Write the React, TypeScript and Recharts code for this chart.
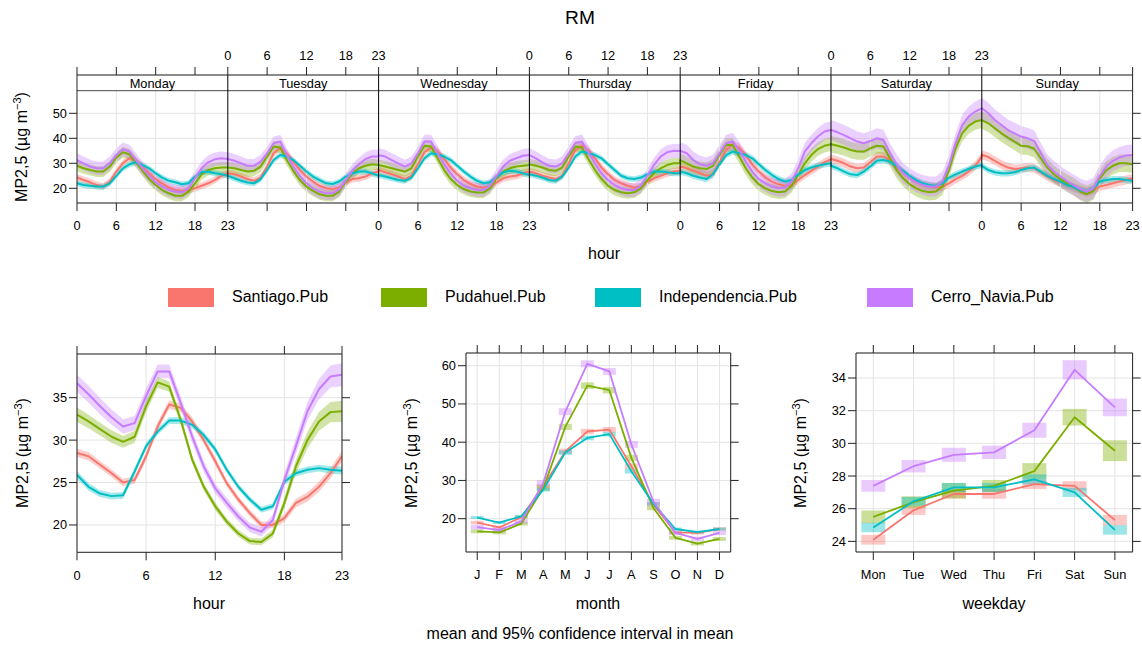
import React from 'react';
import {
  ComposedChart,
  Line,
  Area,
  XAxis,
  YAxis,
  CartesianGrid,
  ReferenceLine,
  ReferenceArea,
  ErrorBar,
} from 'recharts';

// ---------------- data ----------------
const SITES = ['Santiago.Pub', 'Pudahuel.Pub', 'Independencia.Pub', 'Cerro_Navia.Pub'];
const COLORS = ['#F8766D', '#7CAE00', '#00BFC4', '#C77CFF'];
const RGB = ['248,118,109', '124,174,0', '0,191,196', '199,124,255'];
const DAY_NAMES = ['Monday', 'Tuesday', 'Wednesday', 'Thursday', 'Friday', 'Saturday', 'Sunday'];
const HOUR_TICKS = [0, 6, 12, 18, 23];
const MONTH_LABELS = ['J', 'F', 'M', 'A', 'M', 'J', 'J', 'A', 'S', 'O', 'N', 'D'];
const WEEKDAY_LABELS = ['Mon', 'Tue', 'Wed', 'Thu', 'Fri', 'Sat', 'Sun'];

// hour x weekday means (top panel)
const santiagoByDay = [
  [24.3, 23.3, 22.4, 21.3, 20.7, 22.7, 26.7, 30, 32, 31, 28.7, 26, 23.7, 22, 20.3, 19.3, 19, 19.3, 20, 21, 22, 23.3, 25, 26],
  [26, 25.6, 24.7, 23.7, 23, 24.3, 28.7, 34, 36, 34, 30.7, 27.3, 24.7, 22.7, 21, 20, 19.7, 20.3, 22.4, 23.7, 24, 24.7, 26, 26.7],
  [27.3, 26.4, 25.6, 24.7, 23.7, 25, 29.6, 34.4, 36.3, 35, 31.7, 28.3, 25.6, 23.3, 21.7, 20.7, 20.3, 20.7, 22.4, 24, 24.7, 25, 26, 26.7],
  [26.7, 26, 25, 24.3, 23.7, 25, 30, 35.3, 37, 35.3, 32, 28.3, 25.6, 23.3, 22, 21, 20.3, 20.7, 22.7, 24, 25, 26, 26.7, 27],
  [28.7, 28, 27, 26, 25, 25.6, 30.4, 35.3, 37.6, 36.3, 33.3, 29.6, 26.7, 24.3, 22.7, 21.6, 21, 21.3, 23.3, 25.3, 27, 28.7, 30.4, 31.7],
  [31.7, 31, 30, 28.7, 28, 28.3, 30.4, 32.7, 32.7, 31.3, 28.7, 26, 24, 22.4, 21.3, 20.7, 20.3, 20.7, 22, 23.7, 25, 26.7, 29, 32.7],
  [33.4, 32.5, 31, 29.5, 28.3, 27.7, 28, 28.3, 28, 26.4, 24.7, 23.3, 22.4, 21.3, 20.3, 19.3, 18.4, 19.3, 20.7, 21.3, 22, 22.7, 23.3, 24],
];
const pudahuelByDay = [
  [29, 28, 27.3, 26.7, 26.7, 28.7, 32.3, 34.4, 33.6, 30.4, 27, 23.7, 21.3, 19.3, 18, 17, 17, 18.7, 22, 25.6, 27.3, 28, 28.3, 28.3],
  [28.3, 28, 27.3, 26.7, 27, 28.7, 32.7, 36.7, 36.3, 31.3, 27, 23.3, 20.7, 19, 17.6, 17, 17, 18.7, 22.7, 26, 28, 29, 29.6, 29.3],
  [29.3, 28.7, 28, 27.3, 26.7, 28, 32.7, 37, 36.7, 32, 27.3, 23.7, 21.3, 19.7, 18.7, 18.3, 18.3, 20, 24, 26.7, 28, 28.7, 29, 29.3],
  [29.6, 29, 28.3, 27.3, 27, 28.3, 32.7, 36.7, 36.3, 31.7, 27.3, 23.7, 21, 19.3, 18.4, 18, 18.4, 20, 23.3, 26, 28, 29.3, 30, 30],
  [31.3, 30, 28.7, 28, 27.7, 29, 33.3, 37.3, 37.3, 32.7, 28, 24.3, 21.6, 20, 18.9, 18.4, 18.7, 21, 25.3, 30, 33.3, 35.7, 37, 37.6],
  [37.6, 37, 36.3, 35.3, 34.7, 34.7, 36, 37, 36.7, 32, 27.3, 24, 21.6, 20, 18.9, 18.4, 18.7, 20.7, 27.3, 36, 42, 45, 46.7, 47.3],
  [47.3, 46, 44, 42, 40.3, 38.7, 37, 36.8, 35.8, 32, 28.3, 25.6, 23.7, 22, 20.7, 18.7, 17.6, 18.9, 24, 27.3, 29, 30, 30, 29.6],
];
const independenciaByDay = [
  [22, 21.3, 21, 20.7, 20.7, 22, 25, 28, 29.6, 30.4, 29.3, 28, 26, 24.3, 23, 22.4, 21.6, 22, 24.7, 26.4, 26.7, 26, 25.6, 25],
  [25, 24, 23, 22.3, 22, 23.7, 27.3, 31.3, 33.3, 32.7, 31.3, 29, 26.7, 24.7, 23.3, 22, 21.7, 22.7, 24.7, 26, 26.7, 26.7, 26, 25],
  [25.3, 24.7, 24, 23.3, 23, 24.3, 28, 32, 34, 33.6, 32.7, 31.3, 29, 26.7, 24.7, 23, 22, 22.4, 24.7, 26.4, 27, 26.7, 26, 25.3],
  [25.6, 25, 24.3, 23.3, 23, 24.7, 28.3, 32.7, 34.7, 34, 33.3, 32, 29.6, 27.3, 25, 24, 23.7, 24.3, 25.6, 26.7, 26.7, 26.4, 26, 26],
  [26.7, 26, 25, 24.3, 23.7, 25.6, 29.6, 33.3, 34.7, 34, 33.3, 32, 29.6, 27.3, 25.3, 23.7, 22.7, 23.3, 25.6, 27.3, 28.3, 29, 29.6, 30],
  [29, 28, 26.7, 25.6, 25.3, 26.7, 28.7, 31, 31.3, 30.7, 29, 27, 25, 23.3, 22, 21.3, 21, 22, 24.3, 25.6, 26.7, 27.7, 28.7, 29.3],
  [29, 27.3, 26.4, 26, 26, 26.4, 27.3, 28, 28.3, 26.7, 25, 23.7, 22.7, 21.3, 20.5, 19.3, 18.7, 20, 22.7, 23.3, 23.7, 23.7, 23.3, 23],
];
const cerroNaviaByDay = [
  [31.3, 30, 28.7, 28, 28, 30, 33.3, 35.6, 34.7, 31.3, 28, 25, 22.4, 20.7, 19.3, 18.7, 18.4, 20, 24, 28, 30.4, 31.6, 32, 31.7],
  [31.7, 31, 30, 29, 29, 30.7, 34, 38, 38.7, 33.3, 28.7, 25, 22, 20, 18.7, 18, 18, 19.6, 23.3, 27, 29.6, 31.7, 32.7, 32.7],
  [33.3, 32.7, 31.3, 30, 28.7, 30, 34, 38.7, 38.7, 34, 29.6, 26, 23, 21, 20, 19.3, 19.3, 21, 25, 28.7, 31, 32, 33, 33.3],
  [33.3, 32, 30.4, 29, 28.7, 30, 34, 38, 38.7, 34.4, 30, 26, 23.3, 21.3, 20, 19.3, 19.3, 21, 25, 29.3, 32.7, 34.4, 35, 34.9],
  [35, 34, 31.3, 29.6, 29, 30, 34, 38, 38.7, 35.3, 30.7, 26.7, 23.7, 22, 20.7, 20, 20.3, 22.7, 28, 34.7, 38, 40.7, 42.7, 43.3],
  [43.3, 42.4, 41.3, 40, 38.7, 38, 38.9, 40, 39.3, 34, 29.6, 26, 24, 22.4, 21.3, 20.7, 20.7, 22.7, 29.3, 38, 45.3, 48.7, 50.7, 52],
  [52, 50, 47.3, 45.3, 43.3, 42, 40.7, 40, 38.9, 34, 29.3, 26.7, 24.7, 22.9, 21.3, 19.7, 18.7, 20, 25, 28.7, 31, 32.3, 33.1, 33.3],
];
// half-width of 95% CI per site per day (top panel)
const santiagoDayCI = [1.4, 1.4, 1.5, 1.5, 1.6, 1.8, 1.8];
const pudahuelDayCI = [2.2, 2.2, 2.2, 2.2, 2.7, 3.3, 3.5];
const independenciaDayCI = [1.15, 1.15, 1.15, 1.15, 1.25, 1.25, 1.25];
const cerroNaviaDayCI = [2.7, 2.7, 2.7, 2.8, 3.4, 4.0, 4.2];

// hour of day means (bottom-left)
const santiagoHour = [28.5, 28.1, 27.1, 26.1, 25, 25.3, 28.1, 31.6, 34.2, 33.8, 32.2, 30, 27.5, 24.9, 23, 21.4, 20, 20, 20.8, 22.6, 23.3, 24.5, 26.1, 28.1];
const pudahuelHour = [33, 32.2, 31.3, 30.4, 29.8, 30.4, 34, 36.8, 36.3, 32.4, 27.7, 24.5, 22.2, 20.4, 19, 18.1, 18, 19, 22.6, 26.9, 30, 32.2, 33.3, 33.4];
const independenciaHour = [25.9, 24.5, 23.7, 23.4, 23.5, 26.3, 29.3, 31, 32.3, 32.3, 31.8, 30.6, 28.9, 26.5, 24.5, 23, 21.8, 22.2, 25.1, 26.1, 26.5, 26.7, 26.5, 26.4];
const cerroNaviaHour = [36.7, 35.4, 34, 32.7, 31.6, 32, 35.2, 38.1, 38.1, 34.4, 30.4, 26.9, 24.3, 22.6, 21, 19.7, 19.2, 20.6, 25.3, 29.3, 33.4, 36, 37.5, 37.7];
const santiagoHourCI = [0.5, 0.5, 0.45, 0.45, 0.45, 0.45, 0.5, 0.5, 0.5, 0.5, 0.5, 0.45, 0.45, 0.4, 0.4, 0.4, 0.4, 0.4, 0.45, 0.5, 0.55, 0.6, 0.6, 0.65];
const pudahuelHourCI = [0.85, 0.8, 0.75, 0.75, 0.7, 0.7, 0.7, 0.65, 0.6, 0.55, 0.5, 0.45, 0.45, 0.4, 0.4, 0.4, 0.4, 0.45, 0.6, 0.8, 1.0, 1.1, 1.2, 1.25];
const independenciaHourCI = [0.45, 0.45, 0.4, 0.4, 0.4, 0.4, 0.4, 0.4, 0.4, 0.4, 0.4, 0.4, 0.4, 0.35, 0.35, 0.35, 0.35, 0.35, 0.4, 0.4, 0.4, 0.4, 0.45, 0.45];
const cerroNaviaHourCI = [1.0, 1.0, 0.95, 0.9, 0.85, 0.85, 0.85, 0.8, 0.8, 0.75, 0.7, 0.65, 0.6, 0.6, 0.55, 0.55, 0.55, 0.6, 0.8, 0.95, 1.1, 1.2, 1.3, 1.35];

// monthly means (bottom-middle)
const santiagoMonth = [19, 17.7, 20.4, 28.5, 37.6, 42.8, 43.3, 33.7, 23.7, 16.4, 16.3, 17.3];
const pudahuelMonth = [16.7, 16.4, 18.7, 28, 44, 54.8, 53.6, 35.9, 22.8, 15, 13.5, 14.7];
const independenciaMonth = [20.3, 19, 20.6, 27.6, 37.3, 41.1, 42.1, 32.4, 23.9, 17.3, 16.5, 17.3];
const cerroNaviaMonth = [17.8, 17, 19.3, 29.3, 48, 60.5, 58.5, 39.4, 24.5, 16.3, 14.7, 16.3];
const santiagoMonthCI = [0.45, 0.45, 0.45, 0.6, 0.7, 0.7, 0.7, 0.7, 0.5, 0.45, 0.45, 0.45];
const pudahuelMonthCI = [0.5, 0.5, 0.5, 0.7, 0.8, 0.85, 0.85, 0.8, 0.6, 0.5, 0.5, 0.5];
const independenciaMonthCI = [0.4, 0.4, 0.4, 0.5, 0.6, 0.6, 0.6, 0.6, 0.45, 0.4, 0.4, 0.4];
const cerroNaviaMonthCI = [0.6, 0.6, 0.6, 0.8, 0.9, 0.9, 0.9, 0.9, 0.7, 0.6, 0.6, 0.6];

// weekday means (bottom-right)
const santiagoWeekday = [24.1, 25.9, 26.9, 26.9, 27.5, 27.4, 25.3];
const pudahuelWeekday = [25.5, 26.4, 27.1, 27.4, 28.3, 31.6, 29.55];
const independenciaWeekday = [24.85, 26.45, 27.3, 27.3, 27.8, 27.0, 24.7];
const cerroNaviaWeekday = [27.4, 28.6, 29.3, 29.45, 30.8, 34.5, 32.2];
const santiagoWeekdayCI = [0.3, 0.28, 0.28, 0.29, 0.3, 0.28, 0.32];
const pudahuelWeekdayCI = [0.39, 0.36, 0.47, 0.36, 0.49, 0.51, 0.64];
const independenciaWeekdayCI = [0.29, 0.27, 0.28, 0.27, 0.31, 0.28, 0.29];
const cerroNaviaWeekdayCI = [0.36, 0.38, 0.43, 0.41, 0.46, 0.59, 0.54];

// ---------------- derived tables ----------------
const BY_DAY = [santiagoByDay, pudahuelByDay, independenciaByDay, cerroNaviaByDay];
const DAY_CI = [santiagoDayCI, pudahuelDayCI, independenciaDayCI, cerroNaviaDayCI];
const HOUR = [santiagoHour, pudahuelHour, independenciaHour, cerroNaviaHour];
const HOUR_CI = [santiagoHourCI, pudahuelHourCI, independenciaHourCI, cerroNaviaHourCI];
const MONTH = [santiagoMonth, pudahuelMonth, independenciaMonth, cerroNaviaMonth];
const MONTH_CI = [santiagoMonthCI, pudahuelMonthCI, independenciaMonthCI, cerroNaviaMonthCI];
const WEEKDAY = [santiagoWeekday, pudahuelWeekday, independenciaWeekday, cerroNaviaWeekday];
const WEEKDAY_CI = [santiagoWeekdayCI, pudahuelWeekdayCI, independenciaWeekdayCI, cerroNaviaWeekdayCI];

const HPD = 23; // x-units per day panel (hours 0..23)
const weekRows: any[] = [];
DAY_NAMES.forEach((_, d) => {
  for (let h = 0; h < 24; h++) {
    const row: any = { x: d * HPD + h };
    BY_DAY.forEach((s, i) => {
      const m = s[d][h];
      const e = DAY_CI[i][d];
      row['m' + i] = m;
      row['r' + i] = [m - e, m + e];
    });
    weekRows.push(row);
  }
});
const weekTicks: number[] = [];
DAY_NAMES.forEach((_, d) => {
  HOUR_TICKS.forEach((h) => {
    const v = d * HPD + h;
    if (!weekTicks.includes(v)) weekTicks.push(v);
  });
});
const weekGridX: number[] = [];
DAY_NAMES.forEach((_, d) => [6, 12, 18].forEach((h) => weekGridX.push(d * HPD + h)));

const hourRows = santiagoHour.map((_, h) => {
  const row: any = { x: h };
  HOUR.forEach((s, i) => {
    row['m' + i] = s[h];
    row['r' + i] = [s[h] - HOUR_CI[i][h], s[h] + HOUR_CI[i][h]];
  });
  return row;
});
const monthRows = MONTH_LABELS.map((_, k) => {
  const row: any = { x: k + 1 };
  MONTH.forEach((s, i) => {
    row['m' + i] = s[k];
    row['e' + i] = MONTH_CI[i][k];
  });
  return row;
});
const weekdayRows = WEEKDAY_LABELS.map((_, k) => {
  const row: any = { x: k + 1 };
  WEEKDAY.forEach((s, i) => {
    row['m' + i] = s[k];
    row['e' + i] = WEEKDAY_CI[i][k];
  });
  return row;
});

// ---------------- layout ----------------
const FONT = '"Liberation Sans", Arial, Helvetica, sans-serif';
const FRAME = '#222';
const GRID = '#e4e4e4';
const PAD = { l: 70, r: 20, t: 30, b: 40 };
const TOP_PLOT = { l: 76.7, r: 1132.3, t: 75, b: 203 };
const HOUR_PLOT = { l: 76.7, r: 341.7, t: 354, b: 552.3 };
const MONTH_PLOT = { l: 466, r: 730.7, t: 353.3, b: 552.3 };
const WEEK_PLOT = { l: 855.7, r: 1132.3, t: 353.3, b: 552.3 };
const TOP_Y = [14.12, 65.32];
const STRIP_Y = 59.04;

function makeTick(fmt: (v: number) => string, side: string) {
  return (props: any) => {
    const { x, y, payload } = props;
    const s = fmt(payload.value);
    if (!s) return <g />;
    let ty = y;
    let anchor = 'middle';
    if (side === 'bottom') ty = y + 13;
    if (side === 'top') ty = y - 9;
    if (side === 'left') anchor = 'end';
    return (
      <text x={x} y={ty} textAnchor={anchor} dominantBaseline="central" fontSize={12.8} fontFamily={FONT} fill="#000">
        {s}
      </text>
    );
  };
}
const noLabel = () => '';

function frameAxes(o: any) {
  return [
    <XAxis key="xb" xAxisId="b" dataKey="x" type="number" domain={o.xDomain} ticks={o.xTicks} interval={0}
      allowDataOverflow tickSize={8} tickMargin={2} height={PAD.b} stroke={FRAME} tick={makeTick(o.bottomFmt, 'bottom')} />,
    <XAxis key="xt" xAxisId="t" dataKey="x" orientation="top" type="number" domain={o.xDomain} ticks={o.xTicks} interval={0}
      allowDataOverflow tickSize={8} tickMargin={2} height={PAD.t} stroke={FRAME} tick={makeTick(o.topFmt, 'top')} />,
    <YAxis key="yl" yAxisId="l" type="number" domain={o.yDomain} ticks={o.yTicks} interval={0}
      allowDataOverflow tickSize={8} tickMargin={2} width={PAD.l} stroke={FRAME} tick={makeTick(o.leftFmt, 'left')} />,
    <YAxis key="yr" yAxisId="r" orientation="right" type="number" domain={o.yDomain} ticks={o.yTicks} interval={0}
      allowDataOverflow tickSize={8} tickMargin={2} width={PAD.r} stroke={FRAME} tick={makeTick(noLabel, 'right')} />,
  ];
}

function chartBox(p: any) {
  return {
    style: { position: 'absolute' as const, left: p.l - PAD.l, top: p.t - PAD.t },
    width: p.r - p.l + PAD.l + PAD.r,
    height: p.b - p.t + PAD.t + PAD.b,
  };
}

const weekBottomFmt = (v: number) => {
  if (v === 0) return '0';
  if (v === 7 * HPD) return '23';
  if (v % HPD === 0) return (v / HPD) % 2 === 0 ? '0' : '23';
  const d = Math.floor(v / HPD);
  return d % 2 === 0 ? String(v - d * HPD) : '';
};
const weekTopFmt = (v: number) => {
  if (v === 0 || v === 7 * HPD) return '';
  if (v % HPD === 0) return (v / HPD) % 2 === 1 ? '0' : '23';
  const d = Math.floor(v / HPD);
  return d % 2 === 1 ? String(v - d * HPD) : '';
};
const numFmt = (v: number) => String(v);

function YTitle({ x, y }: { x: number; y: number }) {
  return (
    <div
      style={{
        position: 'absolute',
        left: x,
        top: y,
        transform: 'translate(-50%, -50%) rotate(-90deg)',
        whiteSpace: 'nowrap',
        fontSize: 16,
        lineHeight: '18px',
      }}
    >
      MP2,5 (µg m<sup style={{ fontSize: 11, lineHeight: 0 }}>−3</sup>)
    </div>
  );
}
function Text({ x, y, size = 16, children }: any) {
  return (
    <div style={{ position: 'absolute', left: x, top: y, transform: 'translate(-50%, -50%)', whiteSpace: 'nowrap', fontSize: size }}>
      {children}
    </div>
  );
}

const LEGEND_X = [168, 381, 595, 867];

function TopChart() {
  const b = chartBox(TOP_PLOT);
  return (
    <div style={b.style}>
      <ComposedChart width={b.width} height={b.height} data={weekRows} margin={{ top: 0, right: 0, bottom: 0, left: 0 }}>
        {frameAxes({
          xDomain: [0, 7 * HPD],
          xTicks: weekTicks,
          yDomain: TOP_Y,
          yTicks: [20, 30, 40, 50],
          bottomFmt: weekBottomFmt,
          topFmt: weekTopFmt,
          leftFmt: numFmt,
        })}
        <CartesianGrid xAxisId="b" yAxisId="l" stroke={GRID} vertical={false} />
        {weekGridX.map((v) => (
          <ReferenceLine key={'g' + v} xAxisId="b" yAxisId="l" stroke={GRID} strokeWidth={1}
            segment={[{ x: v, y: TOP_Y[0] }, { x: v, y: STRIP_Y }]} />
        ))}
        {SITES.map((_, i) => (
          <Area key={'a' + i} xAxisId="b" yAxisId="l" type="linear" dataKey={'r' + i} stroke="none"
            fill={COLORS[i]} fillOpacity={0.35} isAnimationActive={false} activeDot={false} />
        ))}
        {SITES.map((_, i) => (
          <Line key={'l' + i} xAxisId="b" yAxisId="l" type="linear" dataKey={'m' + i} stroke={COLORS[i]}
            strokeWidth={2} dot={false} activeDot={false} strokeLinejoin="round" isAnimationActive={false} />
        ))}
        <ReferenceLine xAxisId="b" yAxisId="l" y={STRIP_Y} stroke="#444" strokeWidth={1} />
        {DAY_NAMES.map((name, d) => (
          <ReferenceArea key={'s' + d} xAxisId="b" yAxisId="l" x1={d * HPD} x2={(d + 1) * HPD} y1={STRIP_Y} y2={TOP_Y[1]}
            fill="none" fillOpacity={0} stroke="none"
            label={{ value: name, position: 'center', fontSize: 12.8, fill: '#000', fontFamily: FONT, dy: 1 }} />
        ))}
        {DAY_NAMES.slice(1).map((_, k) => (
          <ReferenceLine key={'d' + k} xAxisId="b" yAxisId="l" x={(k + 1) * HPD} stroke="#000" strokeWidth={1} />
        ))}
      </ComposedChart>
    </div>
  );
}

function HourChart() {
  const b = chartBox(HOUR_PLOT);
  return (
    <div style={b.style}>
      <ComposedChart width={b.width} height={b.height} data={hourRows} margin={{ top: 0, right: 0, bottom: 0, left: 0 }}>
        {frameAxes({
          xDomain: [0, 23],
          xTicks: HOUR_TICKS,
          yDomain: [16.78, 40.15],
          yTicks: [20, 25, 30, 35],
          bottomFmt: numFmt,
          topFmt: noLabel,
          leftFmt: numFmt,
        })}
        <CartesianGrid xAxisId="b" yAxisId="l" stroke={GRID} />
        {SITES.map((_, i) => (
          <Area key={'a' + i} xAxisId="b" yAxisId="l" type="linear" dataKey={'r' + i} stroke="none"
            fill={COLORS[i]} fillOpacity={0.35} isAnimationActive={false} activeDot={false} />
        ))}
        {SITES.map((_, i) => (
          <Line key={'l' + i} xAxisId="b" yAxisId="l" type="linear" dataKey={'m' + i} stroke={COLORS[i]}
            strokeWidth={2} dot={false} activeDot={false} strokeLinejoin="round" isAnimationActive={false} />
        ))}
      </ComposedChart>
    </div>
  );
}

function BoxChart({ plot, rows, xDomain, xTicks, labels, yDomain, yTicks, boxW }: any) {
  const b = chartBox(plot);
  return (
    <div style={b.style}>
      <ComposedChart width={b.width} height={b.height} data={rows} margin={{ top: 0, right: 0, bottom: 0, left: 0 }}>
        {frameAxes({
          xDomain,
          xTicks,
          yDomain,
          yTicks,
          bottomFmt: (v: number) => labels[v - 1] || '',
          topFmt: noLabel,
          leftFmt: numFmt,
        })}
        <CartesianGrid xAxisId="b" yAxisId="l" stroke={GRID} />
        {SITES.map((_, i) => (
          <Line key={'e' + i} xAxisId="b" yAxisId="l" type="linear" dataKey={'m' + i} stroke="none"
            dot={false} activeDot={false} isAnimationActive={false}>
            <ErrorBar dataKey={'e' + i} width={0} strokeWidth={boxW} stroke={`rgba(${RGB[i]},0.4)`} direction="y"
              isAnimationActive={false} />
          </Line>
        ))}
        {SITES.map((_, i) => (
          <Line key={'l' + i} xAxisId="b" yAxisId="l" type="linear" dataKey={'m' + i} stroke={COLORS[i]}
            strokeWidth={1.8} dot={false} activeDot={false} strokeLinejoin="round" isAnimationActive={false} />
        ))}
      </ComposedChart>
    </div>
  );
}

export default function App() {
  return (
    <div
      style={{
        position: 'absolute',
        left: 0,
        top: 0,
        width: 1142,
        height: 645,
        background: '#fff',
        fontFamily: FONT,
        color: '#000',
        overflow: 'hidden',
      }}
    >
      <Text x={580} y={18} size={19.2}>RM</Text>
      <TopChart />
      <YTitle x={22} y={147} />
      <Text x={604} y={254}>hour</Text>

      {SITES.map((s, i) => (
        <React.Fragment key={s}>
          <div style={{ position: 'absolute', left: LEGEND_X[i], top: 288, width: 46, height: 19, background: COLORS[i] }} />
          <div style={{ position: 'absolute', left: LEGEND_X[i] + 64, top: 297, transform: 'translateY(-50%)', fontSize: 16, whiteSpace: 'nowrap' }}>
            {s}
          </div>
        </React.Fragment>
      ))}

      <HourChart />
      <BoxChart plot={MONTH_PLOT} rows={monthRows} xDomain={[0.49, 12.51]} xTicks={monthRows.map((r) => r.x)}
        labels={MONTH_LABELS} yDomain={[11.29, 63.32]} yTicks={[20, 30, 40, 50, 60]} boxW={13} />
      <BoxChart plot={WEEK_PLOT} rows={weekdayRows} xDomain={[0.57, 7.44]} xTicks={weekdayRows.map((r) => r.x)}
        labels={WEEKDAY_LABELS} yDomain={[23.35, 35.53]} yTicks={[24, 26, 28, 30, 32, 34]} boxW={24} />

      <YTitle x={23} y={453} />
      <YTitle x={412} y={453} />
      <YTitle x={801} y={453} />
      <Text x={209} y={604}>hour</Text>
      <Text x={598} y={604}>month</Text>
      <Text x={994} y={604}>weekday</Text>
      <Text x={580} y={634}>mean and 95% confidence interval in mean</Text>
    </div>
  );
}
